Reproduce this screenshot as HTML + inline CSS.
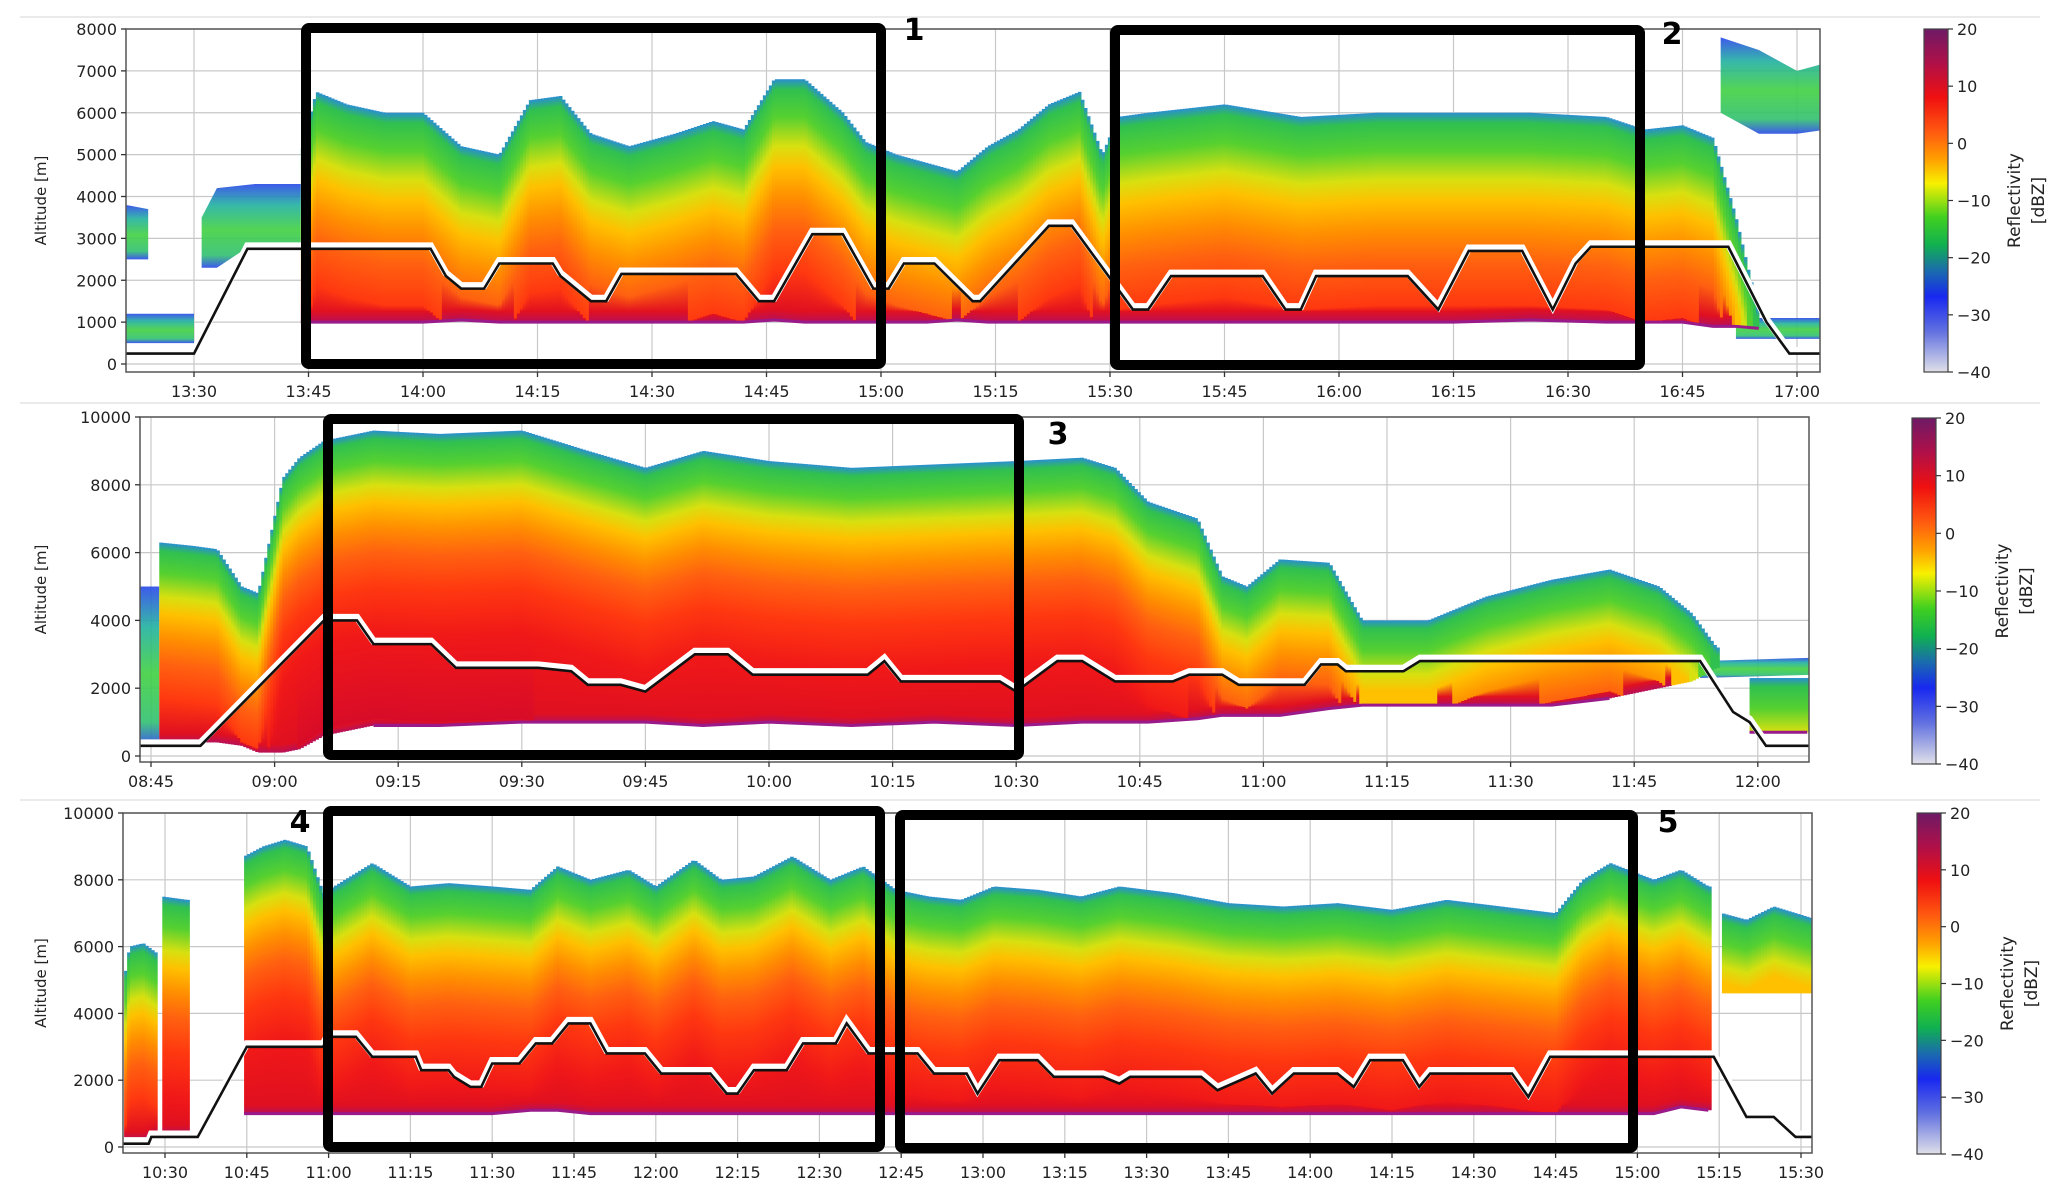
<!DOCTYPE html>
<html><head><meta charset="utf-8">
<style>
html,body{margin:0;padding:0;background:#fff;}
svg{display:block;}
text{font-family:"DejaVu Sans","Liberation Sans",sans-serif;fill:#222;}
</style></head>
<body>
<svg id="fig" width="2067" height="1196" viewBox="0 0 2067 1196" xmlns="http://www.w3.org/2000/svg">
<defs id="defs">
<linearGradient id="cbar" x1="0" y1="0" x2="0" y2="1">
<stop offset="0" stop-color="#6e1a66"/><stop offset="0.1" stop-color="#b01048"/>
<stop offset="0.2" stop-color="#f01010"/><stop offset="0.3" stop-color="#ff5a10"/>
<stop offset="0.38" stop-color="#ffa000"/><stop offset="0.45" stop-color="#f8f000"/>
<stop offset="0.55" stop-color="#40d020"/><stop offset="0.63" stop-color="#10b050"/>
<stop offset="0.7" stop-color="#1a70a8"/><stop offset="0.78" stop-color="#1828f0"/>
<stop offset="0.88" stop-color="#6070e0"/><stop offset="1" stop-color="#e0e0e8"/>
</linearGradient>
<linearGradient id="cool" x1="0" y1="0" x2="0" y2="1">
<stop offset="0" stop-color="#2848e8"/><stop offset="0.25" stop-color="#20b0a0"/>
<stop offset="0.55" stop-color="#40d040"/><stop offset="0.85" stop-color="#30c070"/>
<stop offset="1" stop-color="#2848e8"/>
</linearGradient>
</defs>
<g id="root"></g>
</svg>
<script>
// ===== Panel 1 data =====
const p1Ticks = ["13:30","13:45","14:00","14:15","14:30","14:45","15:00","15:15","15:30","15:45","16:00","16:15","16:30","16:45","17:00"];
const p1YTicks = [0,1000,2000,3000,4000,5000,6000,7000,8000];
const p1TrackT = ["13:21","13:30","13:37","14:01","14:03","14:05","14:08","14:10","14:17","14:18","14:22","14:24","14:26","14:41","14:44","14:46","14:51","14:55","14:59","15:01","15:03","15:07","15:12","15:13","15:22","15:25","15:33","15:35","15:38","15:50","15:53","15:55","15:57","16:09","16:13","16:17","16:24","16:28","16:31","16:33","16:51","16:56","16:59","17:04"];
const p1TrackAlt = [250,250,2750,2750,2100,1800,1800,2400,2400,2100,1500,1500,2150,2150,1500,1500,3100,3100,1800,1800,2400,2400,1500,1500,3300,3300,1300,1300,2100,2100,1300,1300,2100,2100,1300,2700,2700,1300,2400,2800,2800,1000,250,250];
const p1CloudT =   ["13:44","13:46","13:50","13:55","14:00","14:05","14:10","14:14","14:18","14:22","14:27","14:33","14:38","14:42","14:46","14:50","14:55","14:58","15:02","15:06","15:10","15:14","15:18","15:22","15:26","15:29","15:31","15:35","15:45","15:55","16:05","16:15","16:25","16:35","16:40","16:45","16:49","16:52","16:55"];
const p1CloudTop = [5000,6500,6200,6000,6000,5200,5000,6300,6400,5500,5200,5500,5800,5600,6800,6800,6000,5300,5000,4800,4600,5200,5600,6200,6500,5000,5900,6000,6200,5900,6000,6000,6000,5900,5600,5700,5400,3500,1200];
const p1CloudBase= [1000,1000,1000,1000,1000,1050,1000,1000,1000,1000,1000,1000,1000,1000,1050,1000,1000,1000,1000,1000,1050,1000,1000,1000,1000,1000,1000,1000,1000,1000,1000,1000,1050,1000,1000,1000,900,900,850];
const p1CoolT =   ["13:21","13:24",null,"13:21","13:30",null,"13:31","13:33","13:38","13:44",null,"16:52","17:04",null,"16:50","16:55","17:00","17:04"];
const p1CoolTop = [3800,3700,null,1200,1200,null,3500,4200,4300,4300,null,1100,1100,null,7800,7500,7000,7200];
const p1CoolBase= [2500,2500,null,500,500,null,2300,2300,2900,2900,null,600,600,null,6000,5500,5500,5600];

// ===== Panel 2 data =====
const p2Ticks = ["08:45","09:00","09:15","09:30","09:45","10:00","10:15","10:30","10:45","11:00","11:15","11:30","11:45","12:00"];
const p2YTicks = [0,2000,4000,6000,8000,10000];
const p2TrackT = ["08:43","08:51","09:06","09:10","09:12","09:19","09:22","09:32","09:36","09:38","09:42","09:45","09:51","09:55","09:58","10:12","10:14","10:16","10:28","10:30","10:35","10:38","10:42","10:49","10:51","10:55","10:57","11:05","11:07","11:09","11:10","11:17","11:19","11:53","11:57","11:59","12:01","12:07"];
const p2TrackAlt = [300,300,4000,4000,3300,3300,2600,2600,2500,2100,2100,1900,3000,3000,2400,2400,2800,2200,2200,1900,2800,2800,2200,2200,2400,2400,2100,2100,2700,2700,2500,2500,2800,2800,1300,1000,300,300];
const p2CloudT =   ["08:46","08:50","08:53","08:56","08:58","08:59.5","09:01","09:03","09:06","09:12","09:20","09:30","09:38","09:45","09:52","10:00","10:10","10:20","10:30","10:38","10:42","10:46","10:52","10:55","10:58","11:02","11:08","11:12","11:20","11:27","11:35","11:42","11:48","11:52","11:55",null,"11:59","12:06"];
const p2CloudTop = [6300,6200,6100,5000,4800,6500,8200,8800,9300,9600,9500,9600,9000,8500,9000,8700,8500,8600,8700,8800,8500,7500,7000,5300,5000,5800,5700,4000,4000,4700,5200,5500,5000,4200,3200,null,2300,2300];
const p2CloudBase= [400,400,400,300,100,100,100,200,600,900,900,1000,1000,1000,900,1000,900,1000,900,1000,1000,1000,1100,1200,1200,1200,1400,1500,1500,1500,1500,1700,2000,2200,2600,null,700,700];
const p2CoolT =   ["08:43","08:46",null,"11:53","12:07"];
const p2CoolTop = [5000,5000,null,2800,2900];
const p2CoolBase= [300,300,null,2300,2400];

// ===== Panel 3 data =====
const p3Ticks = ["10:30","10:45","11:00","11:15","11:30","11:45","12:00","12:15","12:30","12:45","13:00","13:15","13:30","13:45","14:00","14:15","14:30","14:45","15:00","15:15","15:30"];
const p3YTicks = [0,2000,4000,6000,8000,10000];
const p3TrackT = ["10:22","10:27","10:27.5","10:36","10:45","10:59","11:00","11:05","11:08","11:16","11:17","11:22","11:23","11:26","11:28","11:30","11:35","11:38","11:41","11:44","11:48","11:51","11:58","12:01","12:10","12:13","12:15","12:18","12:24","12:27","12:33","12:35","12:39","12:48","12:51","12:57","12:59","13:03","13:10","13:13","13:22","13:25","13:27","13:40","13:43","13:50","13:53","13:57","14:05","14:08","14:11","14:17","14:20","14:22","14:37","14:40","14:44","15:14","15:20","15:25","15:29","15:33"];
const p3TrackAlt = [100,100,300,300,3000,3000,3300,3300,2700,2700,2300,2300,2100,1800,1800,2500,2500,3100,3100,3700,3700,2800,2800,2200,2200,1600,1600,2300,2300,3100,3100,3700,2800,2800,2200,2200,1600,2600,2600,2100,2100,1900,2100,2100,1700,2200,1600,2200,2200,1800,2600,2600,1800,2200,2200,1500,2700,2700,900,900,300,300];
const p3CloudT =   ["10:22.5","10:23.5","10:26","10:28.5",null,"10:29.5","10:34",null,"10:44.5","10:48","10:52","10:56","10:59","11:03","11:08","11:15","11:22","11:30","11:37","11:42","11:48","11:55","12:00","12:07","12:12","12:18","12:25","12:32","12:38","12:44","12:50","12:56","13:02","13:10","13:18","13:25","13:35","13:45","13:55","14:05","14:15","14:25","14:35","14:45","14:50","14:55","15:03","15:08","15:13",null,"15:15.5","15:20","15:25","15:33"];
const p3CloudTop = [5000,6000,6100,5800,null,7500,7400,null,8700,9000,9200,9000,7600,8000,8500,7800,7900,7800,7700,8400,8000,8300,7800,8600,8000,8100,8700,8000,8400,7700,7500,7400,7800,7700,7500,7800,7600,7300,7200,7300,7100,7400,7200,7000,8000,8500,8000,8300,7800,null,7000,6800,7200,6800];
const p3CloudBase= [200,200,200,400,null,400,400,null,1000,1000,1000,1000,1000,1000,1000,1000,1000,1000,1100,1100,1000,1000,1000,1000,1000,1000,1000,1000,1000,1000,1000,1000,1000,1000,1000,1000,1000,1000,1000,1000,1000,1000,1000,1000,1000,1000,1000,1200,1100,null,4600,4600,4600,4600];
const p3CoolT = [];
const p3CoolTop = [];
const p3CoolBase = [];

const cbTicks = [20,10,0,-10,-20,-30,-40];

const NS = "http://www.w3.org/2000/svg";
const root = document.getElementById('root');
const defs = document.getElementById('defs');
let gid = 0;
function mk(tag, attrs, parent){
  const e = document.createElementNS(NS, tag);
  for (const k in attrs) e.setAttribute(k, attrs[k]);
  (parent||root).appendChild(e);
  return e;
}
function tmin(s){ const p=s.split(':'); return (+p[0])*60 + parseFloat(p[1]); }

const depthStops = [[0,'#2a8fd0'],[250,'#30c050'],[900,'#55d030'],[1600,'#d8e010'],[2100,'#ffc000'],[2800,'#ff9000'],[3600,'#ff6010'],[4600,'#ff3810'],[6000,'#f01818'],[8500,'#d80c28']];

function panel(cfg, ticks, yTicks, trT, trA, cT, cTop, cBase, kT, kTop, kBase, name){
  const g = mk('g', {});
  
  
  const X = t => cfg.x0 + (tmin(t) - tmin(ticks[0])) * cfg.ppm;
  const Xn = m => cfg.x0 + (m - tmin(ticks[0])) * cfg.ppm;
  const Y = a => cfg.y0 - a * cfg.pxm;
  const top = Y(cfg.ymax);
  const cid = 'clip' + (gid++);
  const cp = mk('clipPath', {id: cid}, defs);
  mk('rect', {x: cfg.left, y: top, width: cfg.right - cfg.left, height: cfg.bottom - top}, cp);
  const grid = mk('g', {stroke: '#c8c8c8', 'stroke-width': 1.2}, g);
  
  
  ticks.forEach(t => mk('line', {x1: X(t), x2: X(t), y1: top, y2: cfg.bottom}, grid));
  yTicks.forEach(v => mk('line', {x1: cfg.left, x2: cfg.right, y1: Y(v), y2: Y(v)}, grid));
  const cg = mk('g', {'clip-path': 'url(#' + cid + ')'}, g);
  
  
  function segments(T, A, B){
    const segs = []; let cur = [];
    for (let i=0;i<T.length;i++){
      if (T[i] === null){ if (cur.length) segs.push(cur); cur = []; }
      else cur.push([tmin(T[i]), A[i], B[i]]);
    }
    if (cur.length) segs.push(cur);
    return segs;
  }
  segments(kT, kTop, kBase).forEach(seg => {
    const pts = seg.map(p => Xn(p[0]) + ',' + Y(p[1])).concat(seg.slice().reverse().map(p => Xn(p[0]) + ',' + Y(p[2])));
    const pg = mk('polygon', {points: pts.join(' '), fill: 'url(#cool)', opacity: 0.9}, cg);
    
    
  });
  segments(cT, cTop, cBase).forEach(seg => {
    const x1 = Xn(seg[0][0]), x2 = Xn(seg[seg.length-1][0]);
    const step = 3;
    for (let x = x1; x < x2; x += step){
      const m = tmin(ticks[0]) + (x + step/2 - cfg.x0) / cfg.ppm;
      let j = 0; while (j < seg.length-2 && seg[j+1][0] < m) j++;
      const a = seg[j], b = seg[j+1];
      const f = Math.max(0, Math.min(1, (m - a[0]) / ((b[0] - a[0]) || 1)));
      const tp = a[1] + (b[1]-a[1]) * f, bs = a[2] + (b[2]-a[2]) * f;
      const depth = tp - bs;
      const id = 'cg' + (gid++);
      const lg = mk('linearGradient', {id: id, gradientUnits: 'userSpaceOnUse', x1: 0, x2: 0, y1: Y(tp), y2: Y(bs)}, defs);
      let last = depthStops[0][1];
      depthStops.forEach(s => { if (s[0] <= depth){ mk('stop', {offset: s[0]/depth, 'stop-color': s[1]}, lg); last = s[1]; } });
      if (depth > 2600) mk('stop', {offset: Math.max(0, 1 - 250/depth), 'stop-color': '#e01020'}, lg);
      mk('stop', {offset: 1, 'stop-color': depth > 2600 ? '#b81058' : last}, lg);
      mk('rect', {x: x, y: Y(tp), width: step + 0.6, height: Y(bs) - Y(tp), fill: 'url(#' + id + ')'}, cg);
    }
    const bl = mk('polyline', {points: seg.filter(p => p[2] >= 700 && p[2] < 2000).map(p => Xn(p[0]) + ',' + Y(p[2])).join(' '), fill: 'none', stroke: '#9a1a8a', 'stroke-width': 3}, cg);
    
    
  });
  const tp = trT.map((t,i) => X(t) + ',' + Y(trA[i])).join(' ');
  const tw = mk('polyline', {points: tp, fill: 'none', stroke: '#fff', 'stroke-width': 7, transform: 'translate(0,-3)', 'clip-path': 'url(#' + cid + ')'}, g);
  
  
  const tb = mk('polyline', {points: tp, fill: 'none', stroke: '#111', 'stroke-width': 2.6, 'clip-path': 'url(#' + cid + ')'}, g);
  
  
  const fr = mk('rect', {x: cfg.left, y: top, width: cfg.right - cfg.left, height: cfg.bottom - top, fill: 'none', stroke: '#555', 'stroke-width': 1.5}, g);
  
  
  ticks.forEach(t => {
    mk('line', {x1: X(t), x2: X(t), y1: cfg.bottom, y2: cfg.bottom + 5, stroke: '#333', 'stroke-width': 1.3}, g);
    const tx = mk('text', {x: X(t), y: cfg.bottom + 25, 'text-anchor': 'middle', 'font-size': 16}, g);
    tx.textContent = t;
    
    
  });
  yTicks.forEach(v => {
    mk('line', {x1: cfg.left - 5, x2: cfg.left, y1: Y(v), y2: Y(v), stroke: '#333', 'stroke-width': 1.3}, g);
    const tx = mk('text', {x: cfg.left - 9, y: Y(v) + 6, 'text-anchor': 'end', 'font-size': 16}, g);
    tx.textContent = v;
    
    
  });
  const yt = mk('text', {x: 0, y: 0, 'text-anchor': 'middle', 'font-size': 15, transform: 'translate(' + cfg.ytx + ',' + ((top + cfg.bottom)/2) + ') rotate(-90)'}, g);
  yt.textContent = 'Altitude [m]';
  
  
  const cb = mk('g', {}, g);
  
  
  mk('rect', {x: cfg.cbx, y: cfg.cby1, width: 24, height: cfg.cby2 - cfg.cby1, fill: 'url(#cbar)', stroke: '#444', 'stroke-width': 1.2}, cb);
  cbTicks.forEach(v => {
    const yy = cfg.cby1 + (20 - v) / 60 * (cfg.cby2 - cfg.cby1);
    mk('line', {x1: cfg.cbx + 24, x2: cfg.cbx + 29, y1: yy, y2: yy, stroke: '#333', 'stroke-width': 1.2}, cb);
    const tx = mk('text', {x: cfg.cbx + 33, y: yy + 6, 'font-size': 16}, cb);
    tx.textContent = v < 0 ? '\u2212' + (-v) : String(v);
    
    
  });
  const cy = (cfg.cby1 + cfg.cby2) / 2;
  const l1 = mk('text', {x: 0, y: 0, 'text-anchor': 'middle', 'font-size': 17, transform: 'translate(' + (cfg.cbx + 96) + ',' + cy + ') rotate(-90)'}, cb);
  l1.textContent = 'Reflectivity';
  
  
  const l2 = mk('text', {x: 0, y: 0, 'text-anchor': 'middle', 'font-size': 17, transform: 'translate(' + (cfg.cbx + 120) + ',' + cy + ') rotate(-90)'}, cb);
  l2.textContent = '[dBZ]';
  
  
}

panel({x0:194, ppm:114.5/15, y0:364, pxm:335/8000, ymax:8000, left:126, right:1820, bottom:372, ytx:46, cbx:1924, cby1:29, cby2:372},
  p1Ticks, p1YTicks, p1TrackT, p1TrackAlt, p1CloudT, p1CloudTop, p1CloudBase, p1CoolT, p1CoolTop, p1CoolBase, 'panel-1');
panel({x0:151, ppm:123.6/15, y0:756, pxm:339/10000, ymax:10000, left:140, right:1809, bottom:762, ytx:46, cbx:1912, cby1:418, cby2:764},
  p2Ticks, p2YTicks, p2TrackT, p2TrackAlt, p2CloudT, p2CloudTop, p2CloudBase, p2CoolT, p2CoolTop, p2CoolBase, 'panel-2');
panel({x0:165, ppm:81.8/15, y0:1147, pxm:334/10000, ymax:10000, left:123, right:1812, bottom:1153, ytx:46, cbx:1917, cby1:813, cby2:1154},
  p3Ticks, p3YTicks, p3TrackT, p3TrackAlt, p3CloudT, p3CloudTop, p3CloudBase, p3CoolT, p3CoolTop, p3CoolBase, 'panel-3');

[17, 403, 800].forEach(y => {
  const s = mk('line', {x1: 20, x2: 2040, y1: y, y2: y, stroke: '#eaeaea', 'stroke-width': 2});
  
  
});

const boxes = [[301,23,886,369,'1',914,40],[1110,25,1645,370,'2',1672,44],[323,414,1024,760,'3',1058,444],[323,806,885,1152,'4',300,832],[895,810,1638,1153,'5',1668,832]];
boxes.forEach(b => {
  const r = mk('rect', {x: b[0]+5, y: b[1]+5, width: b[2]-b[0]-10, height: b[3]-b[1]-10, fill: 'none', stroke: '#000', 'stroke-width': 10, rx: 3});
  
  
  const t = mk('text', {x: b[5], y: b[6], 'text-anchor': 'middle', 'font-size': 30, 'font-weight': 'bold', style: 'fill:#000'});
  t.textContent = b[4];
  
  
});
</script>
</body></html>
